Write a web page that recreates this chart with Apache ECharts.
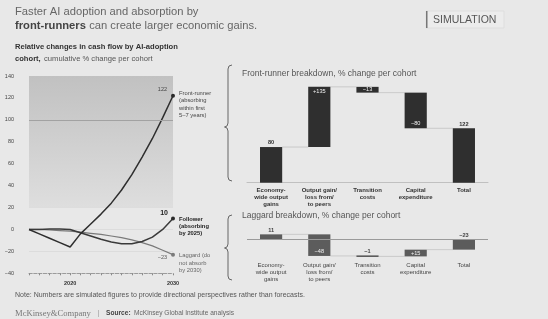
<!DOCTYPE html>
<html><head><meta charset="utf-8">
<script src="https://cdn.jsdelivr.net/npm/echarts@6/dist/echarts.min.js"></script>
<style>html,body{margin:0;padding:0;background:#e8e8e8;}#c{width:548px;height:319px;}</style>
</head><body><div id="c"></div>
<script>
// ---- data ----
const years = [2016,2017,2018,2019,2020,2021,2022,2023,2024,2025,2026,2027,2028,2029,2030];
const frontRunner = [0,-4,-8,-12,-16,-4,5,14,24,36,50,66,83,102,122];
const follower    = [0,0,0.5,0.5,0,-3,-6,-9,-11.5,-13,-13,-11,-7,0,10];
const laggard     = [0,0,-0.5,-1,-1.5,-2.5,-3.5,-4.5,-6,-7.5,-9.5,-12,-15,-19,-23];
const yTicksLeft = [-40,-20,0,20,40,60,80,100,120,140];
const xLabelYears = [2020,2030];
const breakdownCategories = ['Economy-\nwide output\ngains','Output gain/\nloss from/\nto peers','Transition\ncosts','Capital\nexpenditure','Total'];
const frontRunnerBreakdown = [80,135,-13,-80,122];
const laggardBreakdown = [11,-48,-1,15,-23];
const cohortNames = ['Front-runner\n(absorbing\nwithin first\n5–7 years)','Follower\n(absorbing\nby 2025)','Laggard (do\nnot absorb\nby 2030)'];

const FONT = "'Liberation Sans', Arial, sans-serif";
const chart = echarts.init(document.getElementById('c'), null, {renderer:'canvas'});

function fmtSigned(v, signed){
  const a = Math.abs(v);
  if (v < 0) return '\u2212' + a;
  return (signed ? '+' : '') + a;
}
function buildWaterfall(vals){
  let cum = 0; const n = vals.length;
  return vals.map((v,i)=>{
    let s, e;
    if (i === 0 || i === n-1){ s = 0; e = v; }
    else { s = cum; e = cum + v; }
    if (i < n-1) cum = e;
    return [i, s, e, v];
  });
}
function makeRender(n, barColor, outColor, lineColor){
  return function(params, api){
    const i = api.value(0), s = api.value(1), e = api.value(2), v = api.value(3);
    const p1 = api.coord([i, s]), p2 = api.coord([i, e]);
    const bw = api.size([1,0])[0]*0.46;
    const x = p1[0]-bw/2;
    let y = Math.min(p1[1],p2[1]); let h = Math.abs(p1[1]-p2[1]);
    if (h < 1.6){ y -= (1.6-h)/2; h = 1.6; }
    const children = [];
    if (i < n-1){
      const pn = api.coord([i+1, e]);
      children.push({type:'line', z2:0, shape:{x1:x+bw, y1:p2[1], x2:pn[0]-bw/2, y2:p2[1]}, style:{stroke:lineColor, lineWidth:0.7}});
    }
    children.push({type:'rect', z2:1, shape:{x:x, y:y, width:bw, height:h}, style:{fill:barColor}});
    const isEnd = (i === 0 || i === n-1);
    const txt = fmtSigned(v, !isEnd);
    let ty, tva, col, fw;
    if (isEnd || h < 4){ ty = y - 1.2; tva = 'bottom'; col = outColor; fw = 'bold'; }
    else if (h < 12){ ty = y + h/2; tva = 'middle'; col = '#f2f2f2'; fw='normal'; }
    else if (v > 0){ ty = y + 1.5; tva = 'top'; col = '#f2f2f2'; fw='normal'; }
    else { ty = y + h - 1.5; tva = 'bottom'; col = '#f2f2f2'; fw='normal'; }
    children.push({type:'text', z2:2, style:{text:txt, x:p1[0], y:ty, align:'center', verticalAlign:tva, fill:col, font: fw+' 5.6px '+FONT}});
    return {type:'group', children};
  };
}

function lineData(arr, endLabel){
  return arr.map((v,i)=>{
    if (i === arr.length-1) return {value:[years[i], v], symbol:'circle', symbolSize:4, label:endLabel};
    return {value:[years[i], v]};
  });
}
function brace(x, top, mid, bottom){
  return [[x+4,top],[x+1,top+1],[x,top+4],[x,mid-4],[x-1,mid-1],[x-3.5,mid],[x-1,mid+1],[x,mid+4],[x,bottom-4],[x+1,bottom-1],[x+4,bottom]];
}

const frWF = buildWaterfall(frontRunnerBreakdown);
const lgWF = buildWaterfall(laggardBreakdown);

const option = {
  backgroundColor:'#e8e8e8',
  animation:false,
  textStyle:{fontFamily:FONT},
  grid:[
    {left:29, right:375, top:76, bottom:45.7},
    {left:247, right:60, top:75.7, bottom:136.3},
    {left:247, right:60, top:230.3, bottom:57.2}
  ],
  xAxis:[
    {gridIndex:0, type:'value', min:years[0], max:years[years.length-1], interval:1,
     axisLine:{show:true, onZero:false, lineStyle:{color:'#8a8a8a', type:'dashed', width:0.8}},
     axisTick:{show:true, length:2, lineStyle:{color:'#8a8a8a'}},
     splitLine:{show:false},
     axisLabel:{margin:7, fontSize:5.5, fontWeight:'bold', color:'#333',
       formatter:(v)=> xLabelYears.indexOf(v) >= 0 ? String(v) : ''}},
    {gridIndex:1, type:'category', data:breakdownCategories,
     axisLine:{show:true, lineStyle:{color:'#b5b5b5', width:0.8}}, axisTick:{show:false},
     axisLabel:{margin:3.5, fontSize:6, fontWeight:'bold', color:'#333', lineHeight:7.4, interval:0}},
    {gridIndex:2, type:'category', data:breakdownCategories,
     axisLine:{show:false}, axisTick:{show:false},
     axisLabel:{margin:0, fontSize:6, color:'#444', lineHeight:7.2, interval:0}}
  ],
  yAxis:[
    {gridIndex:0, type:'value', min:yTicksLeft[0], max:yTicksLeft[yTicksLeft.length-1], interval:20,
     axisLine:{show:false}, axisTick:{show:false},
     axisLabel:{margin:15, fontSize:5.5, color:'#444', formatter:(v)=> v<0 ? '\u2212'+Math.abs(v) : String(v)},
     splitLine:{show:true, lineStyle:{color:'#d3d3d3', width:0.6}}},
    {gridIndex:1, type:'value', min:0, max:240, show:false, splitLine:{show:false}},
    {gridIndex:2, type:'value', min:-50, max:20, show:false, splitLine:{show:false}}
  ],
  series:[
    {type:'line', xAxisIndex:0, yAxisIndex:0, z:2, symbol:'none', showSymbol:true,
     data:lineData(laggard, {show:true, position:'left', distance:4, offset:[0,3], formatter:'\u221223', fontSize:5.5, color:'#555'}),
     lineStyle:{color:'#7a7a7a', width:1.2}, itemStyle:{color:'#7a7a7a'},
     endLabel:{show:true, formatter:cohortNames[2], fontSize:5.8, lineHeight:7.3, color:'#666', distance:6, verticalAlign:'top', offset:[0,-2.5]},
     markArea:{silent:true, itemStyle:{color:{type:'linear',x:0,y:0,x2:0,y2:1,colorStops:[{offset:0,color:'#c1c1c1'},{offset:1,color:'#dedede'}]}},
       data:[[{xAxis:years[0], yAxis:20},{xAxis:years[years.length-1], yAxis:140}]]},
     markLine:{silent:true, symbol:'none', label:{show:false}, lineStyle:{color:'#a2a2a2', width:1.2, type:'solid'}, data:[{yAxis:100}]}},
    {type:'line', xAxisIndex:0, yAxisIndex:0, z:3, symbol:'none', showSymbol:true,
     data:lineData(follower, {show:true, position:'left', distance:3, offset:[0,-5], formatter:'10', fontSize:7, fontWeight:'bold', color:'#222'}),
     lineStyle:{color:'#3a3a3a', width:1.5}, itemStyle:{color:'#2a2a2a'},
     endLabel:{show:true, formatter:cohortNames[1], fontSize:5.8, lineHeight:7.3, fontWeight:'bold', color:'#222', distance:6, verticalAlign:'top', offset:[0,-3]}},
    {type:'line', xAxisIndex:0, yAxisIndex:0, z:4, symbol:'none', showSymbol:true,
     data:lineData(frontRunner, {show:true, position:'left', distance:4, offset:[0,-6], formatter:'122', fontSize:5.5, color:'#444'}),
     lineStyle:{color:'#2e2e2e', width:1.5}, itemStyle:{color:'#2a2a2a'},
     endLabel:{show:true, formatter:cohortNames[0], fontSize:5.8, lineHeight:7.3, color:'#444', distance:6, verticalAlign:'top', offset:[0,-6]}},
    {type:'custom', xAxisIndex:1, yAxisIndex:1, data:frWF, encode:{x:0, y:[1,2]},
     renderItem: makeRender(frWF.length, '#2f2f2f', '#333', '#bdbdbd')},
    {type:'custom', xAxisIndex:2, yAxisIndex:2, data:lgWF, encode:{x:0, y:[1,2]},
     renderItem: makeRender(lgWF.length, '#5c5c5c', '#444', '#bdbdbd'),
     markLine:{silent:true, symbol:'none', label:{show:false}, lineStyle:{color:'#9a9a9a', width:1.2, type:'solid'}, data:[{yAxis:0}]}}
  ],
  graphic:[
    {type:'text', x:15, y:6, style:{text:'Faster AI adoption and absorption by', font:'11.2px '+FONT, fill:'#666'}},
    {type:'text', x:15, y:20, style:{text:'{b|front-runners} {n|can create larger economic gains.}',
      rich:{b:{font:'bold 11.2px '+FONT, fill:'#444'}, n:{font:'11.2px '+FONT, fill:'#666'}}}},
    {type:'rect', shape:{x:426, y:11, width:78, height:17}, style:{fill:'#ececec', stroke:'#d6d6d6', lineWidth:0.6}},
    {type:'rect', shape:{x:426, y:11, width:1.5, height:17}, style:{fill:'#777'}},
    {type:'text', x:433, y:14.5, style:{text:'SIMULATION', font:'10.5px '+FONT, fill:'#555'}},
    {type:'text', x:15, y:43, style:{text:'Relative changes in cash flow by AI-adoption', font:'bold 7.6px '+FONT, fill:'#333'}},
    {type:'text', x:15, y:53, style:{text:'{b|cohort,} {n|cumulative % change per cohort}',
      rich:{b:{font:'bold 7.6px '+FONT, fill:'#333'}, n:{font:'7.6px '+FONT, fill:'#555'}}}},
    {type:'text', x:242, y:69, style:{text:'Front-runner breakdown, % change per cohort', font:'8.5px '+FONT, fill:'#555'}},
    {type:'text', x:242, y:211.5, style:{text:'Laggard breakdown, % change per cohort', font:'8.5px '+FONT, fill:'#555'}},
    {type:'polyline', shape:{points:brace(228,65,127,181)}, style:{fill:null, stroke:'#666', lineWidth:1}},
    {type:'polyline', shape:{points:brace(228,215,248,280)}, style:{fill:null, stroke:'#666', lineWidth:1}},
    {type:'text', x:15, y:292, style:{text:'Note: Numbers are simulated figures to provide directional perspectives rather than forecasts.', font:'7px '+FONT, fill:'#555'}},
    {type:'text', x:15, y:307.5, style:{text:'{m|McKinsey&Company}  {s||}  {b|Source:} {n|McKinsey Global Institute analysis}',
      rich:{m:{font:'8.6px "Liberation Serif", serif', fill:'#777'}, s:{font:'7px '+FONT, fill:'#999'}, b:{font:'bold 6.6px '+FONT, fill:'#444'}, n:{font:'6.6px '+FONT, fill:'#666'}}}}
  ]
};
chart.setOption(option);
</script></body></html>
